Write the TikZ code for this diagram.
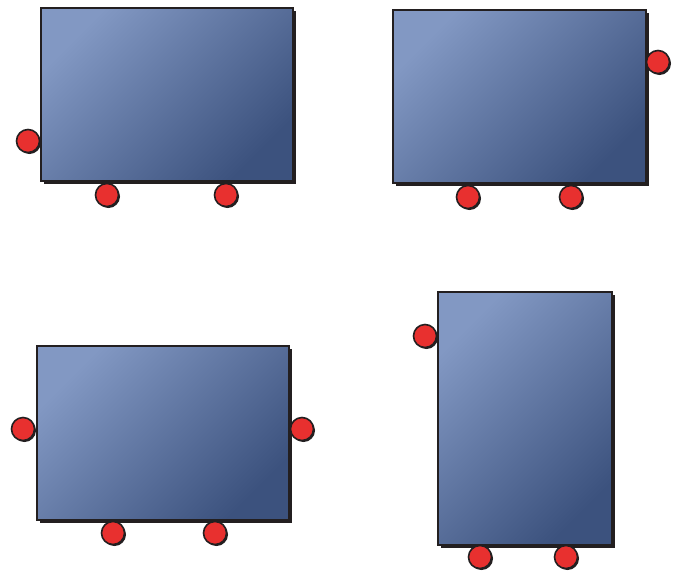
\documentclass[tikz,border=0pt]{standalone}
\usetikzlibrary{shadows}
\definecolor{blklight}{HTML}{8298C3}
\definecolor{blkdark}{HTML}{3C527E}
\definecolor{portred}{HTML}{E8302F}
\definecolor{edge}{HTML}{231F20}
\tikzset{
  blk/.style={draw=edge, line width=1.6pt, shading=axis, top color=blklight, bottom color=blkdark, shading angle=45,
    inner sep=0pt, rectangle,
    general shadow={fill=edge, shadow xshift=3pt, shadow yshift=-3pt}},
  port/.style={circle, draw=edge, line width=1.6pt, fill=portred, minimum size=23pt, inner sep=0pt,
    general shadow={fill=edge, shadow xshift=1.5pt, shadow yshift=-1.5pt}}
}
\begin{document}
\begin{tikzpicture}[x=1pt,y=-1pt]
\useasboundingbox (0,0) rectangle (676,571);
% box 1
\node[blk, minimum width=252pt, minimum height=173pt] (b1) at (167,94.5) {};
\node[port] (b1l) at (28,141) {};
\node[port] (b1d1) at (107,195) {};
\node[port] (b1d2) at (226,195) {};
% box 2
\node[blk, minimum width=253pt, minimum height=173pt] (b2) at (519.5,96.5) {};
\node[port] (b2r) at (658,62) {};
\node[port] (b2d1) at (468,197) {};
\node[port] (b2d2) at (571,197) {};
% box 3
\node[blk, minimum width=252pt, minimum height=174pt] (b3) at (163,433) {};
\node[port] (b3l) at (23,429) {};
\node[port] (b3r) at (302,429) {};
\node[port] (b3d1) at (113,533) {};
\node[port] (b3d2) at (215,533) {};
% box 4
\node[blk, minimum width=174pt, minimum height=253pt] (b4) at (525,418.5) {};
\node[port] (b4l) at (425,336) {};
\node[port] (b4d1) at (480,557) {};
\node[port] (b4d2) at (566,557) {};
\end{tikzpicture}
\end{document}
